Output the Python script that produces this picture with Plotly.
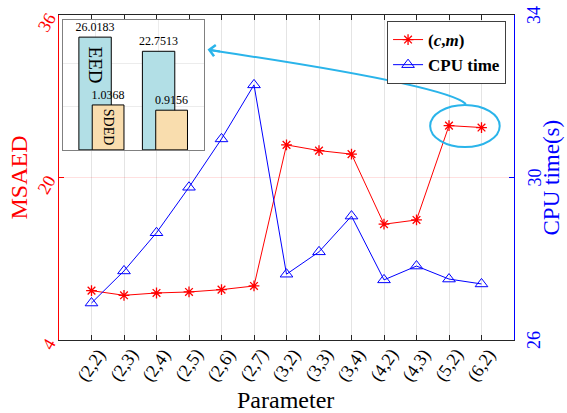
import plotly.graph_objects as go

categories = ["(2,2)", "(2,3)", "(2,4)", "(2,5)", "(2,6)", "(2,7)", "(3,2)",
              "(3,3)", "(3,4)", "(4,2)", "(4,3)", "(5,2)", "(6,2)"]
msaed = [8.86, 8.40, 8.63, 8.73, 8.96, 9.32, 23.21, 22.65, 22.30, 15.40, 15.82, 25.11, 24.92]
cpu_time = [26.91, 27.70, 28.64, 29.76, 30.95, 32.28, 27.62, 28.17, 29.05, 27.48, 27.82, 27.50, 27.38]

left_ticks = [4, 20, 36]
right_ticks = [26, 30, 34]

inset_groups = [1, 2]
eed_values = [26.0183, 22.7513]
sded_values = [1.0368, 0.9156]

FONT = "Liberation Serif"
xpos = list(range(1, len(categories) + 1))

fig = go.Figure()

fig.add_trace(go.Scatter(
    x=xpos, y=msaed, name="<b>(<i>c</i>,<i>m</i>)</b>", mode="lines+markers",
    line=dict(color="red", width=1),
    marker=dict(symbol="asterisk-open", size=9, color="red", line=dict(color="red", width=1.3)),
    yaxis="y", xaxis="x"))
fig.add_trace(go.Scatter(
    x=xpos, y=cpu_time, name="<b>CPU time</b>", mode="lines+markers",
    line=dict(color="blue", width=1),
    marker=dict(symbol="triangle-up-open", size=11, color="blue", line=dict(color="blue", width=1)),
    yaxis="y2", xaxis="x"))

# inset bars
fig.add_trace(go.Bar(
    x=inset_groups, y=eed_values, xaxis="x2", yaxis="y3", width=0.51, offset=-0.36,
    marker=dict(color="#b2dfe6", line=dict(color="black", width=1)),
    text=[f"{v:.4f}" for v in eed_values], textposition="outside", constraintext="none",
    textfont=dict(family=FONT, size=12, color="black"), cliponaxis=False, showlegend=False))
fig.add_trace(go.Bar(
    x=inset_groups, y=sded_values, xaxis="x2", yaxis="y4", width=0.50, offset=-0.15,
    marker=dict(color="#f9ddae", line=dict(color="black", width=1)),
    text=[f"{v:.4f}" for v in sded_values], textposition="outside", constraintext="none",
    textfont=dict(family=FONT, size=12, color="black"), cliponaxis=False, showlegend=False))

annotations = []
# x tick labels
for xp, lab in zip(xpos, categories):
    annotations.append(dict(x=xp, xref="x", y=-0.077, yref="paper", text=lab, textangle=-55,
                            showarrow=False, xanchor="center", yanchor="middle",
                            font=dict(family=FONT, size=18, color="black")))
# left tick labels
for v in left_ticks:
    s = str(v)
    annotations.append(dict(x=0, xref="paper", y=v, yref="y", text=s, textangle=-60,
                            showarrow=False, xanchor="center", yanchor="middle",
                            xshift=-8 - 2.25 * len(s), yshift=-3.9 * len(s),
                            font=dict(family=FONT, size=18, color="red")))
# right tick labels
for v in right_ticks:
    annotations.append(dict(x=1, xref="paper", y=v, yref="y2", text=str(v), textangle=-90,
                            showarrow=False, xanchor="center", yanchor="middle", xshift=20,
                            font=dict(family=FONT, size=18, color="blue")))
# axis titles
annotations.append(dict(x=0.497, xref="paper", y=-0.185, yref="paper", text="Parameter",
                        showarrow=False, xanchor="center", yanchor="middle",
                        font=dict(family=FONT, size=24, color="black")))
annotations.append(dict(x=-0.090, xref="paper", y=0.5, yref="paper", text="MSAED", textangle=-90,
                        showarrow=False, xanchor="center", yanchor="middle",
                        font=dict(family=FONT, size=24, color="red")))
annotations.append(dict(x=1.0835, xref="paper", y=0.5, yref="paper", text="CPU time(s)", textangle=-90,
                        showarrow=False, xanchor="center", yanchor="middle",
                        font=dict(family=FONT, size=23, color="blue")))
# inset bar names
annotations.append(dict(x=inset_groups[0] - 0.1, xref="x2", y=19.6, yref="y3", text="EED", textangle=90,
                        showarrow=False, xanchor="center", yanchor="middle",
                        font=dict(family=FONT, size=19, color="black")))
annotations.append(dict(x=inset_groups[0] + 0.1, xref="x2", y=0.53, yref="y4", text="SDED", textangle=90,
                        showarrow=False, xanchor="center", yanchor="middle",
                        font=dict(family=FONT, size=14, color="black")))
# arrow head
annotations.append(dict(x=4.57, xref="x", y=32.6, yref="y", text="", showarrow=True,
                        ax=14, ay=2.2, arrowhead=4, arrowsize=1.1, arrowwidth=2,
                        arrowcolor="#2ab4ea", standoff=0))

shapes = [
    dict(type="circle", xref="x", yref="y", x0=11.42, x1=13.56, y0=23.0, y1=27.14,
         line=dict(color="#2ab4ea", width=2)),
    dict(type="path", xref="x", yref="y", path="M 12.52,27.24 Q 11.88,29.11 4.62,32.55",
         line=dict(color="#2ab4ea", width=2)),
]

fig.update_layout(
    width=567, height=413,
    margin=dict(l=59, r=53, t=15, b=73),
    paper_bgcolor="white", plot_bgcolor="white",
    font=dict(family=FONT),
    xaxis=dict(domain=[0, 1], range=[0, 14], tickvals=xpos, showticklabels=False,
               ticks="inside", ticklen=5, tickcolor="#262626", showline=True, linecolor="#262626",
               linewidth=1, mirror="ticks", showgrid=True, gridcolor="#e4e4e4", zeroline=False),
    yaxis=dict(range=[4, 36], tickvals=left_ticks, showticklabels=False, ticks="inside", ticklen=5,
               tickcolor="red", showline=True, linecolor="red", linewidth=1.2, showgrid=True,
               gridcolor="rgba(255,0,0,0.12)", zeroline=False),
    yaxis2=dict(range=[26, 34], tickvals=right_ticks, showticklabels=False, ticks="inside", ticklen=5,
                tickcolor="blue", showline=True, linecolor="blue", linewidth=1.2, overlaying="y",
                side="right", showgrid=False, zeroline=False),
    xaxis2=dict(domain=[0.0088, 0.3187], anchor="y3", range=[0.39, 2.61], tickvals=[0.9, 1.9],
                showticklabels=False, ticks="", showline=True, linecolor="#808080", mirror=True,
                showgrid=True, gridcolor="#ececec", zeroline=False),
    yaxis3=dict(domain=[0.585, 0.985], anchor="x2", range=[0, 30], tickvals=[0, 10, 20, 30],
                showticklabels=False, ticks="", showline=True, linecolor="#808080", mirror=True,
                showgrid=True, gridcolor="#ececec", zeroline=False),
    yaxis4=dict(range=[0, 3], overlaying="y3", anchor="x2", visible=False),
    legend=dict(x=0.721, y=0.9815, xanchor="left", yanchor="top", bgcolor="white",
                bordercolor="#404040", borderwidth=1, font=dict(family=FONT, size=17, color="black"),
                tracegroupgap=0),
    showlegend=True,
    annotations=annotations, shapes=shapes,
)

fig.write_html("out.html")
